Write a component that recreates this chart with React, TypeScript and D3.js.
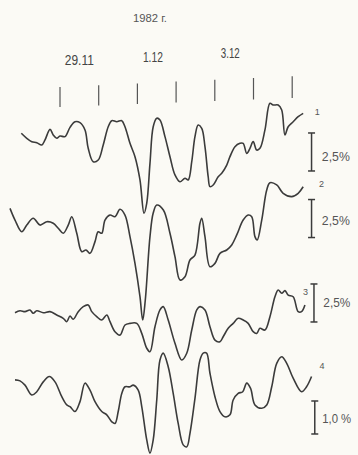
import React from "react";
import * as d3 from "d3";

// time in hours from 29.11 00h, values in % deviation
const tickDays = [0, 1, 2, 3, 4, 5, 6];
const dateLabels = [
  { day: 0.5, text: "29.11" },
  { day: 2.4, text: "1.12" },
  { day: 4.4, text: "3.12" },
];
const title = "1982 г.";

const c1h = [-24,-20.6,-17.5,-14.4,-11.3,-9.3,-6.2,-4.2,-2,0,3.1,6.2,9.3,12.4,15.5,17.5,20.6,23.7,26.8,29.9,32.1,35.2,38.3,40.3,43.4,46.5,49.6,52.1,53.8,55.8,57.8,60,62,65.1,68.2,71.3,74.4,77.5,79.5,81.7,83.7,85.7,87.9,89.9,91.9,93,95,98.1,100.3,103.4,105.4,108.5,111.6,113.6,115.8,117.8,119.8,122,124,127.1,130.2,132.2,135.3,137.5,139.5,141.5,144.6,147.7,150.8];
const c1v = [1.10,0.77,0.55,0.48,0.33,0.66,1.36,0.99,0.77,0.92,0.88,1.49,1.86,1.80,1.32,0.11,-0.77,-0.66,0.33,1.53,1.93,1.86,1.93,1.53,0.44,-0.44,-1.97,-4.16,-3.49,-0.88,1.53,2.09,1.97,0.88,-0.44,-1.64,-2.09,-1.86,-1.97,-0.77,0.88,1.64,1.43,0.22,-1.76,-2.41,-2.30,-1.76,-1.53,-0.99,-0.44,0.22,0.44,0.44,-0.22,0.11,0.55,0,0.11,1.32,3.07,2.96,2.96,2.63,0.99,1.53,1.86,2.19,2.41];

const c2h = [-31,-27.9,-23.7,-20.6,-16.6,-12.4,-8.2,-4.2,-1.1,2,5.1,7.3,10.4,13.5,16.1,18.6,21.7,23.7,25.9,27.9,31,34.1,37.2,40.3,43.4,46.5,49.6,51.3,52.9,55.8,57.8,60,64.1,68.2,71.3,74.4,77.5,80.6,83.7,86.8,87.9,89.9,93,96.1,99.2,103.4,106.5,109.6,113.6,116.7,118.9,120.9,122.3,125.1,128.2,130.2,134.4,138.4,143.7,147.7,150.8];
const c2v = [2.74,1.97,1.20,1.64,2.09,1.64,1.86,1.76,1.43,1.10,1.64,2.19,1.10,-0.11,0,-0.22,0.55,1.20,1.10,1.97,2.30,2.19,2.68,2.30,0.88,-0.88,-3.07,-4.61,-3.29,0.88,2.43,2.96,2.63,1.10,-0.44,-1.97,-1.76,-0.66,-0.33,1.76,2.09,0.88,-1.10,-0.88,-0.22,0,0.33,0.99,1.97,2.30,2.19,0.88,0.66,1.97,3.95,4.43,4.28,3.73,3.51,3.73,4.16];

const c3h = [-27.9,-24.8,-21.7,-18.6,-16.6,-14.4,-10.4,-6.2,-2,2,4.2,6.2,8.2,11.3,14.4,17.5,19.7,22.8,25.9,29,31,34.1,37.2,40.3,43.4,47.6,50.7,53.8,55.8,58.9,62,64,67.1,71.3,75.5,78.6,81.7,84.8,86.8,89.9,93,96.1,99.2,101.2,104.3,107.4,110.5,113.6,116.7,119.8,122,124,127.1,130.2,133.3,135.3,137.5,139.5,141.5,144.6,147.7,149.8,151.9];
const c3v = [0.48,0.61,0.55,0.66,0.44,0.61,0.48,0.55,0.33,0.11,-0.11,0.26,0.05,0.55,0.88,0.99,0.55,0.22,0,0.33,-0.11,-0.77,-0.99,-0.33,-0.22,-0.22,-0.88,-1.86,-2.09,-0.44,0.66,0.88,0,-1.53,-2.63,-2.19,-0.66,0.66,0.88,0.66,-0.44,-1.32,-1.43,-1.10,-0.55,-0.22,0.11,0,-0.22,-0.77,-0.88,-0.55,-0.66,0.22,1.53,1.97,1.76,1.93,1.64,1.53,0.55,0.55,0.99];

const c4h = [-27.9,-24.8,-21.7,-17.5,-14.4,-10.4,-6.6,-3.1,1.1,4.2,6.2,9.3,12.4,15.5,18.6,21.7,25.9,29,32.1,34.1,36.1,38.3,40.3,43.4,45.4,48.5,50.7,53.8,55.8,57.8,60,62,64,67.1,70.2,73.3,76.4,78.6,80.6,83.7,86.8,88.8,90.9,93,96.1,99.2,102.3,105.4,107.4,110.5,113.3,115.8,118.2,120.9,125.1,128.2,131.3,134.4,137.5,140.6,144.6,149.8,152.9,156];
const c4v = [0.61,0.58,0.45,0.15,0.25,0.55,0.71,0.55,0.10,-0.15,-0.20,-0.35,-0.05,0.51,0.30,-0.05,-0.35,-0.45,-0.66,-0.71,-0.35,0.20,0.40,0.40,0.45,0.30,-0.20,-1.21,-1.61,-1.21,0,1.21,1.42,1.01,0.20,-0.71,-1.36,-1.42,-1.01,0.05,1.21,1.42,1.42,0.81,0.10,-0.35,-0.51,-0.45,0,0.20,0.25,0.51,0.35,-0.15,-0.25,-0.15,0.40,1.11,1.31,1.11,0.66,0.25,0.40,0.71];

const curveNames = ["1", "2", "3", "4"];
const scaleTexts = ["2,5%", "2,5%", "2,5%", "1,0 %"];
const scaleSizes = [2.5, 2.5, 2.5, 1.0];

const W = 358, H = 455;
const x = d3.scaleLinear().domain([0, 144]).range([60, 292.2]);

const panels = [
  { h: c1h, v: c1v, base: 150, k: 15.2, bar: { t: 156, c: -0.13 }, lab: { t: 158, v: 2.3 }, txt: { t: 162.4, v: -0.75 } },
  { h: c2h, v: c2v, base: 250, k: 15.2, bar: { t: 156, c: 2.07 }, lab: { t: 160.6, v: 4.15 }, txt: { t: 162.4, v: 1.65 } },
  { h: c3h, v: c3v, base: 320, k: 15.2, bar: { t: 157.5, c: 1.12 }, lab: { t: 150.7, v: 1.62 }, txt: { t: 163.3, v: 0.88 } },
  { h: c4h, v: c4v, base: 400, k: 33, bar: { t: 158, c: -0.53 }, lab: { t: 161, v: 0.95 }, txt: { t: 162.6, v: -0.7 } },
];
const scaleTextWidths = [28, 28, 27, 29];
const dateWidths = [29, 20, 19];

const font = "'Liberation Sans', Arial, sans-serif";
const ink = "#3b3b3b";

export default function App() {
  return (
    <svg width={W} height={H} style={{ position: "fixed", left: 0, top: 0, background: "#fbfaf5" }}>
      <text x={133} y={22} fontFamily={font} fontSize={11} fill="#555" textLength={34} lengthAdjust="spacingAndGlyphs">{title}</text>
      {dateLabels.map((d, i) => (
        <text key={i} x={x(d.day * 24) - dateWidths[i] / 2} y={65 - i * 3.5} fontFamily={font} fontSize={15} fill="#444" textLength={dateWidths[i]} lengthAdjust="spacingAndGlyphs">{d.text}</text>
      ))}
      {tickDays.map((d, i) => (
        <line key={i} x1={x(d * 24)} x2={x(d * 24)} y1={87 - i * 1.8} y2={107 - i * 1.5} stroke="#555" strokeWidth={1.2} />
      ))}
      {panels.map((p, i) => {
        const y = d3.scaleLinear().domain([0, 1]).range([p.base, p.base - p.k]);
        const line = d3.line<number>().x((_, j) => x(p.h[j])).y((vv) => y(vv)).curve(d3.curveCatmullRom.alpha(0.5));
        const bx = x(p.bar.t);
        const half = scaleSizes[i] / 2;
        const y1 = y(p.bar.c + half), y2 = y(p.bar.c - half);
        return (
          <g key={i}>
            <path d={line(p.v) || ""} fill="none" stroke={ink} strokeWidth={1.6} strokeLinejoin="round" />
            <line x1={bx} x2={bx} y1={y1} y2={y2} stroke={ink} strokeWidth={1.5} />
            <line x1={bx - 3.5} x2={bx + 3.5} y1={y1} y2={y1} stroke={ink} strokeWidth={1.5} />
            <line x1={bx - 3.5} x2={bx + 3.5} y1={y2} y2={y2} stroke={ink} strokeWidth={1.5} />
            <text x={x(p.lab.t)} y={y(p.lab.v)} fontFamily={font} fontSize={9} fill="#555">{curveNames[i]}</text>
            <text x={x(p.txt.t)} y={y(p.txt.v)} fontFamily={font} fontSize={13} fill="#555" textLength={scaleTextWidths[i]} lengthAdjust="spacingAndGlyphs">{scaleTexts[i]}</text>
          </g>
        );
      })}
    </svg>
  );
}
